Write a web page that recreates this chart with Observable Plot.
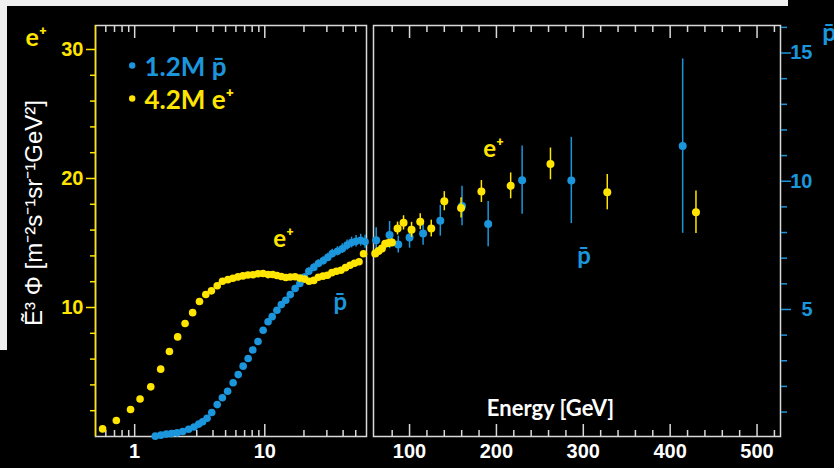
<!DOCTYPE html>
<html><head><meta charset="utf-8">
<script src="https://cdn.jsdelivr.net/npm/d3@7"></script>
<script src="https://cdn.jsdelivr.net/npm/@observablehq/plot@0.6"></script>
<style>
html,body{margin:0;padding:0;background:#000;}
#wrap{position:relative;width:834px;height:468px;overflow:hidden;background:#000;}
#wrap svg{position:absolute;left:0;top:0;}
.strip{position:absolute;background:#f0f0f0;}
</style></head><body>
<div id="wrap">
  <div class="strip" style="left:0;top:0;width:788px;height:6px"></div>
  <div class="strip" style="left:0;top:0;width:7px;height:350px"></div>
</div>
<script>
// ---------- data ----------
// positrons, low-energy panel (E in GeV, E^3 flux)
const posLeftE = [0.567,0.723,0.93,1.10,1.33,1.585,1.85,2.14,2.44,2.79,3.15,3.52,3.89,4.31,4.73,5.21,5.69,6.22,6.79,7.42,8.11,8.87,9.69,10.6,11.5,12.4,13.4,14.5,15.7,17.1,18.6,20.2,21.9,23.8,25.8,28.0,30.3,32.8,35.5,38.5,41.7,45.2,48.9,53.0,57.4];
const posLeftFlux = [0.59,1.24,2.09,2.91,3.85,5.22,6.59,7.72,8.76,9.60,10.47,11.01,11.29,11.69,12.04,12.16,12.27,12.37,12.45,12.52,12.54,12.62,12.64,12.55,12.56,12.48,12.40,12.33,12.36,12.38,12.28,12.20,12.04,12.10,12.35,12.43,12.50,12.70,12.81,12.89,13.09,13.28,13.43,13.55,14.17];
// antiprotons, low-energy panel (right-axis units)
const pbarLeftE = [1.44,1.59,1.75,1.92,2.12,2.34,2.60,2.86,3.11,3.33,3.60,3.91,4.31,4.72,5.18,5.71,6.25,6.82,7.45,8.08,8.87,9.71,10.6,11.4,12.4,13.4,14.5,15.7,17.1,18.6,20.2,21.8,23.8,25.8,28.1,30.5,33.0,36.2,39.4,42.9,46.5,50.3,54.6,59.0];
const pbarLeftFlux = [0.06,0.10,0.14,0.16,0.19,0.24,0.33,0.42,0.53,0.62,0.76,0.98,1.29,1.56,1.81,2.14,2.46,2.79,3.09,3.42,3.75,4.19,4.52,4.72,4.97,5.19,5.36,5.58,5.82,6.01,6.26,6.49,6.64,6.79,6.90,7.03,7.18,7.27,7.37,7.51,7.61,7.66,7.70,7.64];
const pbarLeftErr = [0.02,0.02,0.02,0.02,0.02,0.02,0.02,0.02,0.02,0.03,0.03,0.03,0.03,0.04,0.04,0.04,0.05,0.05,0.05,0.06,0.06,0.07,0.08,0.08,0.09,0.10,0.10,0.11,0.12,0.12,0.13,0.14,0.14,0.15,0.16,0.16,0.17,0.18,0.19,0.20,0.21,0.22,0.23,0.25];
// high-energy panel
const posRightE = [60.5,64.3,68.2,72.0,75.8,79.7,86.2,93.1,102.3,112.3,125.0,140.0,159.3,182.7,216.4,262.2,327.6,429.7];
const posRightFlux = [14.18,14.38,14.57,14.95,15.00,15.03,16.12,16.56,16.02,16.64,16.12,18.24,17.72,18.99,19.43,21.13,18.94,17.39];
const posRightErr = [0.20,0.20,0.25,0.25,0.30,0.30,0.50,0.55,0.58,0.62,0.65,0.74,0.78,0.85,1.00,1.23,1.37,1.65];
const pbarRightE = [61.6,77.0,87.0,100.0,115.6,135.4,160.4,190.5,229.6,286.2,414.4];
const pbarRightFlux = [7.70,7.90,7.53,7.81,7.96,8.46,9.03,8.33,10.04,10.03,11.37];
const pbarRightErr = [0.49,0.53,0.33,0.42,0.46,0.60,0.77,0.88,1.33,1.68,3.40];
// tick values
const logMajor = [1, 10];
const logMinor = [0.6,0.7,0.8,0.9,2,3,4,5,6,7,8,9,20,30,40,50];
const linMajor = [100,200,300,400,500];
const linMinor = [80,120,140,160,180,220,240,260,280,320,340,360,380,420,440,460,480,520];
const eMajor = [10,20,30];
const eMinor = [2,4,6,8,12,14,16,18,22,24,26,28];
const pMajor = [5,10,15];
const pMinor = [1,2,3,4,6,7,8,9,11,12,13,14,16];

// ---------- styles ----------
const YEL = "#ffe500", BLU = "#1b96dc", FRAME = "#d9d9d9";
const NUM = "'Liberation Sans', Arial, sans-serif";
const CAL = "Lato, 'Open Sans', sans-serif";
const W = 834, H = 468;
// right (antiproton) axis expressed in left (positron) axis units
const toE = v => 1.988 * v - 0.093;
const fromE = e => (e + 0.093) / 1.988;

const common = {
  width: W, height: H, marginTop: 25, marginBottom: 32,
  y: {domain: [0, 31.86]},
  style: {background: "transparent", color: "white", fontFamily: CAL, overflow: "visible"}
};
const numText = {fontFamily: NUM, fontSize: 20, fontWeight: "bold"};
const lbl = {lineAnchor: "middle", textAnchor: "start", fontWeight: "bold", fontFamily: CAL};

const left = Plot.plot({
  ...common,
  marginLeft: 95, marginRight: W - 366,
  x: {type: "log", domain: [0.5, 60.5]},
  marks: [
    Plot.frame({stroke: FRAME, strokeWidth: 1.5}),
    Plot.ruleX([0.5], {stroke: YEL, strokeWidth: 1.5}),
    Plot.axisX(logMajor, {anchor: "bottom", tickSize: -12, fill: "none", stroke: FRAME, strokeWidth: 1.5}),
    Plot.axisX(logMinor, {anchor: "bottom", tickSize: -6, fill: "none", stroke: FRAME, strokeWidth: 1.5}),
    Plot.axisX(logMajor, {anchor: "top", tickSize: -12, fill: "none", stroke: FRAME, strokeWidth: 1.5}),
    Plot.axisX(logMinor, {anchor: "top", tickSize: -6, fill: "none", stroke: FRAME, strokeWidth: 1.5}),
    Plot.axisX(logMajor, {anchor: "bottom", tickSize: 0, tickPadding: 7, fill: "white", tickFormat: d => String(d), ...numText}),
    Plot.axisX([60], {anchor: "bottom", tickSize: 0, tickPadding: 7, dx: -7, fill: "white", tickFormat: d => String(d), ...numText}),
    Plot.axisY(eMajor, {anchor: "left", tickSize: 9, tickPadding: 3, stroke: YEL, fill: YEL, strokeWidth: 1.5, ...numText}),
    Plot.axisY(eMinor, {anchor: "left", tickSize: 5, fill: "none", stroke: YEL, strokeWidth: 1.5}),
    Plot.text(["Ẽ³ Φ [m⁻²s⁻¹sr⁻¹GeV²]"], {frameAnchor: "left", dx: -61, dy: -18, rotate: -90, lineAnchor: "middle", fill: "white", fontSize: 24, fontFamily: NUM, textAnchor: "middle"}),
    Plot.text(["e⁺"], {...lbl, frameAnchor: "top-left", dx: -70, dy: 12, fill: YEL, fontSize: 25}),
    // data
    Plot.ruleX(pbarLeftE, {x: pbarLeftE, y1: pbarLeftFlux.map((v, i) => toE(v - pbarLeftErr[i])), y2: pbarLeftFlux.map((v, i) => toE(v + pbarLeftErr[i])), stroke: BLU, strokeWidth: 1.5}),
    Plot.dot(pbarLeftE, {x: pbarLeftE, y: pbarLeftFlux.map(toE), r: 3.8, fill: BLU}),
    Plot.dot(posLeftE, {x: posLeftE, y: posLeftFlux, r: 3.8, fill: YEL}),
    // legend
    Plot.dot([0], {frameAnchor: "top-left", dx: 36.7, dy: 40, r: 3.2, fill: BLU}),
    Plot.dot([0], {frameAnchor: "top-left", dx: 36.7, dy: 73, r: 3.2, fill: YEL}),
    Plot.text(["1.2M p̄"], {...lbl, frameAnchor: "top-left", dx: 49, dy: 41.7, fill: BLU, fontSize: 26}),
    Plot.text(["4.2M e⁺"], {...lbl, frameAnchor: "top-left", dx: 49, dy: 75, fill: YEL, fontSize: 26}),
    // annotations
    Plot.text(["e⁺"], {...lbl, frameAnchor: "top-left", dx: 177.7, dy: 214.3, fill: YEL, fontSize: 24}),
    Plot.text(["p̄"], {...lbl, frameAnchor: "top-left", dx: 238, dy: 277.3, fill: BLU, fontSize: 24})
  ]
});

const right = Plot.plot({
  ...common,
  marginLeft: 373, marginRight: W - 780,
  x: {type: "linear", domain: [58.5, 527]},
  marks: [
    Plot.frame({stroke: FRAME, strokeWidth: 1.5}),
    Plot.axisX(linMajor, {anchor: "bottom", tickSize: -12, fill: "none", stroke: FRAME, strokeWidth: 1.5}),
    Plot.axisX(linMinor, {anchor: "bottom", tickSize: -6, fill: "none", stroke: FRAME, strokeWidth: 1.5}),
    Plot.axisX(linMajor, {anchor: "top", tickSize: -12, fill: "none", stroke: FRAME, strokeWidth: 1.5}),
    Plot.axisX(linMinor, {anchor: "top", tickSize: -6, fill: "none", stroke: FRAME, strokeWidth: 1.5}),
    Plot.axisX(linMajor, {anchor: "bottom", tickSize: 0, tickPadding: 7, fill: "white", tickFormat: d => String(d), ...numText}),
    Plot.axisY(pMajor.map(toE), {anchor: "right", tickSize: 10, fill: "none", stroke: BLU, strokeWidth: 1.5}),
    Plot.axisY(pMinor.map(toE), {anchor: "right", tickSize: 6, fill: "none", stroke: BLU, strokeWidth: 1.5}),
    Plot.axisY(pMajor.map(toE), {anchor: "right", tickSize: 0, tickPadding: 32, textAnchor: "end", fill: BLU, tickFormat: d => String(Math.round(fromE(d))), ...numText}),
    Plot.text(["p̄"], {...lbl, frameAnchor: "top-right", dx: 41.7, dy: 7.7, fill: BLU, fontSize: 25}),
    Plot.text(["Energy [GeV]"], {...lbl, frameAnchor: "bottom-left", dx: 177, dy: -28, textAnchor: "middle", fill: "white", fontSize: 22}),
    // data
    Plot.ruleX(pbarRightE, {x: pbarRightE, y1: pbarRightFlux.map((v, i) => toE(v - pbarRightErr[i])), y2: pbarRightFlux.map((v, i) => toE(v + pbarRightErr[i])), stroke: BLU, strokeWidth: 1.5}),
    Plot.dot(pbarRightE, {x: pbarRightE, y: pbarRightFlux.map(toE), r: 4, fill: BLU}),
    Plot.ruleX(posRightE, {x: posRightE, y1: posRightFlux.map((v, i) => v - posRightErr[i]), y2: posRightFlux.map((v, i) => v + posRightErr[i]), stroke: YEL, strokeWidth: 1.5}),
    Plot.dot(posRightE, {x: posRightE, y: posRightFlux, r: 4, fill: YEL}),
    // annotations
    Plot.text(["e⁺"], {...lbl, frameAnchor: "top-left", dx: 109.7, dy: 124, fill: YEL, fontSize: 24}),
    Plot.text(["p̄"], {...lbl, frameAnchor: "top-left", dx: 203.7, dy: 230.8, fill: BLU, fontSize: 24})
  ]
});

const wrap = document.getElementById("wrap");
wrap.appendChild(left);
wrap.appendChild(right);
</script>
</body></html>
